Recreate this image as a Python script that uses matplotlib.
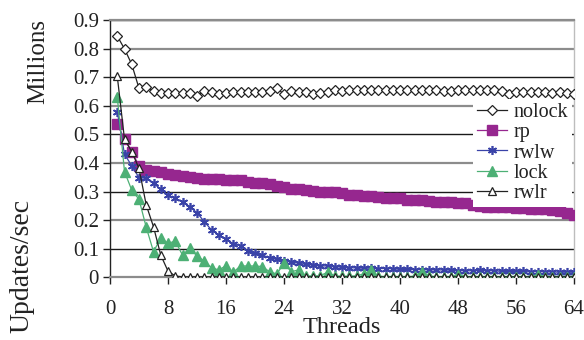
import matplotlib
matplotlib.use("Agg")
import matplotlib.pyplot as plt

plt.rcParams['font.family'] = ['Liberation Serif', 'DejaVu Serif']

threads = list(range(1, 65))

nolock = [0.844, 0.799, 0.745, 0.661, 0.665, 0.653, 0.644, 0.644, 0.646, 0.646,
          0.644, 0.635, 0.652, 0.647, 0.641, 0.644, 0.647, 0.649, 0.647, 0.647,
          0.649, 0.653, 0.661, 0.641, 0.653, 0.649, 0.647, 0.641, 0.644, 0.649,
          0.655, 0.653, 0.655, 0.655, 0.655, 0.654, 0.655, 0.655, 0.654, 0.655,
          0.655, 0.655, 0.654, 0.655, 0.655, 0.653, 0.652, 0.654, 0.655, 0.655,
          0.654, 0.655, 0.654, 0.650, 0.643, 0.647, 0.649, 0.647, 0.649, 0.647,
          0.646, 0.648, 0.645, 0.641]

rp = [0.536, 0.484, 0.440, 0.390, 0.375, 0.372, 0.368, 0.362, 0.357, 0.353,
      0.351, 0.348, 0.345, 0.343, 0.343, 0.342, 0.340, 0.340, 0.335, 0.331,
      0.329, 0.325, 0.321, 0.317, 0.308, 0.309, 0.306, 0.303, 0.300, 0.297,
      0.297, 0.294, 0.288, 0.287, 0.286, 0.286, 0.282, 0.279, 0.276, 0.276,
      0.271, 0.271, 0.271, 0.268, 0.265, 0.265, 0.262, 0.261, 0.259, 0.252,
      0.250, 0.247, 0.247, 0.247, 0.246, 0.244, 0.243, 0.240, 0.239, 0.240,
      0.236, 0.232, 0.226, 0.219]

rwlw = [0.580, 0.431, 0.390, 0.349, 0.346, 0.329, 0.308, 0.287, 0.276, 0.265,
        0.247, 0.226, 0.195, 0.166, 0.148, 0.133, 0.118, 0.110, 0.093, 0.084,
        0.078, 0.069, 0.063, 0.058, 0.055, 0.049, 0.046, 0.043, 0.040, 0.040,
        0.038, 0.035, 0.034, 0.033, 0.032, 0.032, 0.031, 0.031, 0.030, 0.028,
        0.028, 0.027, 0.027, 0.026, 0.026, 0.026, 0.025, 0.023, 0.023, 0.023,
        0.025, 0.023, 0.023, 0.021, 0.021, 0.021, 0.021, 0.019, 0.020, 0.019,
        0.019, 0.018, 0.018, 0.018]

lock = [0.632, 0.370, 0.305, 0.273, 0.175, 0.090, 0.137, 0.119, 0.127, 0.078,
        0.102, 0.075, 0.057, 0.034, 0.026, 0.041, 0.018, 0.040, 0.040, 0.040,
        0.038, 0.020, 0.012, 0.049, 0.020, 0.026, 0.005, 0.005, 0.006, 0.018,
        0.005, 0.004, 0.004, 0.006, 0.012, 0.025, 0.004, 0.003, 0.003, 0.003,
        0.003, 0.004, 0.020, 0.004, 0.003, 0.003, 0.003, 0.010, 0.003, 0.003,
        0.003, 0.003, 0.003, 0.003, 0.003, 0.003, 0.003, 0.003, 0.010, 0.003,
        0.003, 0.003, 0.003, 0.003]

rwlr = [0.704, 0.483, 0.440, 0.381, 0.253, 0.177, 0.078, 0.022, 0.005, 0.002,
        0.002, 0.002, 0.002, 0.002, 0.002, 0.002, 0.002, 0.002, 0.002, 0.002,
        0.002, 0.002, 0.002, 0.002, 0.002, 0.002, 0.002, 0.002, 0.002, 0.002,
        0.002, 0.002, 0.002, 0.002, 0.002, 0.002, 0.002, 0.002, 0.002, 0.002,
        0.002, 0.002, 0.002, 0.002, 0.002, 0.002, 0.002, 0.002, 0.002, 0.002,
        0.002, 0.002, 0.002, 0.002, 0.002, 0.002, 0.002, 0.002, 0.002, 0.002,
        0.002, 0.002, 0.002, 0.002]

x_ticks = [0, 8, 16, 24, 32, 40, 48, 56, 64]
y_ticks = [0, 0.1, 0.2, 0.3, 0.4, 0.5, 0.6, 0.7, 0.8, 0.9]
y_tick_labels = ['0', '0.1', '0.2', '0.3', '0.4', '0.5', '0.6', '0.7', '0.8', '0.9']

PURPLE = '#96278F'
BLUE = '#3A43A8'
GREEN = '#4DB075'
INK = '#222222'

fig = plt.figure(figsize=(5.84, 3.40), dpi=100)
ax = fig.add_axes([110/584, (340-277.4)/340, (574-110)/584, (277.4-20)/340])

# gridlines alternating gray / black
for i, yv in enumerate(y_ticks):
    if i == 0:
        continue
    col = '#8c8c8c' if i % 2 == 0 else '#1a1a1a'
    lw = 1.6 if i % 2 == 0 else 1.0
    ax.axhline(yv, color=col, lw=lw, zorder=0.5)

ax.plot(threads, nolock, color=INK, lw=0.9, marker='D', ms=5.5,
        mfc='white', mec=INK, mew=0.9, label='nolock', zorder=3)
ax.plot(threads, rp, color=PURPLE, lw=0.9, marker='s', ms=6.5,
        mfc=PURPLE, mec=PURPLE, label='rp', zorder=3)
ax.plot(threads, rwlw, color=BLUE, lw=0.9, marker=(6, 2, 0), ms=6.5,
        mec=BLUE, mew=1.2, label='rwlw', zorder=3)
ax.plot(threads, lock, color=GREEN, lw=0.9, marker='^', ms=6.5,
        mfc=GREEN, mec=GREEN, label='lock', zorder=3)
ax.plot(threads, rwlr, color=INK, lw=0.9, marker='^', ms=5.5,
        mfc='white', mec=INK, mew=0.9, label='rwlr', zorder=3.5)

ax.set_xlim(0, 64)
ax.set_ylim(0, 0.9)
ax.set_xticks(x_ticks)
ax.set_xticklabels([str(t) for t in x_ticks])
ax.set_yticks(y_ticks)
ax.set_yticklabels(y_tick_labels)
ax.tick_params(axis='both', labelsize=15, colors=INK, length=5, width=1,
               direction='out')
ax.tick_params(axis='x', pad=11)
ax.tick_params(axis='y', pad=3)

ax.spines['top'].set_color('#8c8c8c')
ax.spines['top'].set_linewidth(1.6)
ax.spines['right'].set_color('#bdbdbd')
ax.spines['right'].set_linewidth(1.0)
ax.spines['bottom'].set_color('#8c8c8c')
ax.spines['bottom'].set_linewidth(1.6)
ax.spines['left'].set_color(INK)
ax.spines['left'].set_linewidth(1.0)

fig.text(342/584, 1 - 333/340, 'Threads', ha='center', va='baseline',
         fontsize=17.5, color=INK)
fig.text(22/584, 1 - 266/340, 'Updates/sec', rotation=90, ha='center', va='center',
         fontsize=20, color=INK)
fig.text(38/584, 1 - 62/340, 'Millions', rotation=90, ha='center', va='center',
         fontsize=18, color=INK)

leg = ax.legend(loc='center left', bbox_to_anchor=(473/584, 1 - 153/340),
                bbox_transform=fig.transFigure, fontsize=14.5, frameon=True,
                framealpha=1, facecolor='white', edgecolor='none',
                handlelength=1.5, handletextpad=0.3, labelspacing=0.05,
                borderpad=0.2, borderaxespad=0, fancybox=False)
leg.set_zorder(5)
for t in leg.get_texts():
    t.set_color(INK)

fig.savefig('out.png', dpi=100)
